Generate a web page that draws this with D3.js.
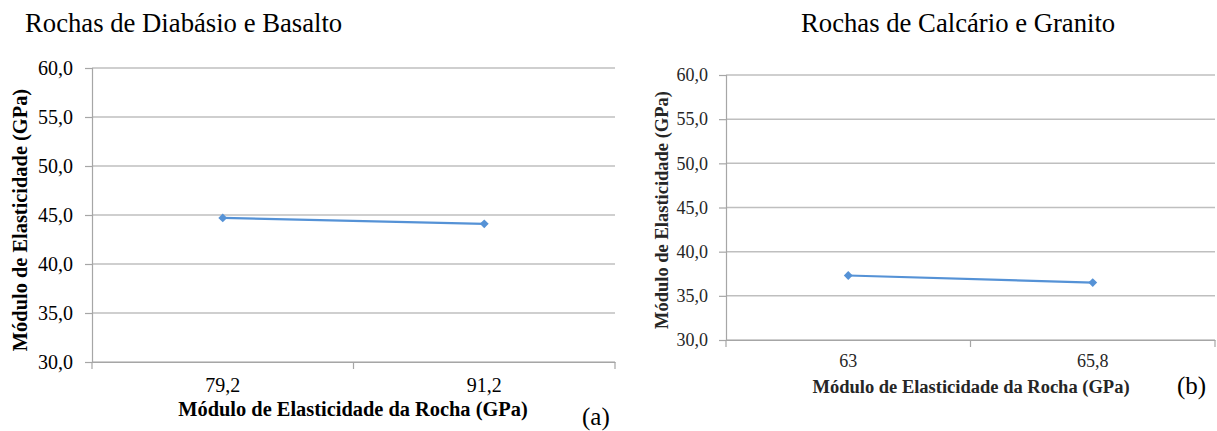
<!DOCTYPE html>
<html>
<head>
<meta charset="utf-8">
<script src="https://cdn.jsdelivr.net/npm/d3@7"></script>
<style>
  body { margin: 0; background: #fff; }
  svg { display: block; font-family: "Liberation Serif", "DejaVu Serif", serif; }
</style>
</head>
<body>
<svg id="chart" width="1217" height="431"></svg>
<script>
// values
var categoriesA = ["79,2", "91,2"];
var valuesA = [44.7, 44.1];
var categoriesB = ["63", "65,8"];
var valuesB = [37.3, 36.5];
var yTicks = [30, 35, 40, 45, 50, 55, 60];

var svg = d3.select('#chart');
var serif = '"Liberation Serif", "DejaVu Serif", serif';

function drawChart(cfg) {
  var g = svg.append('g');

  var x = d3.scaleBand()
    .domain(cfg.categories)
    .range([cfg.left, cfg.right]);

  var y = d3.scaleLinear()
    .domain([30, 60])
    .range([cfg.bottom, cfg.top]);

  // gridlines
  g.append('g').selectAll('line')
    .data(yTicks)
    .enter().append('line')
    .attr('x1', cfg.left).attr('x2', cfg.right)
    .attr('y1', function(d) { return y(d); })
    .attr('y2', function(d) { return y(d); })
    .attr('stroke', '#bfbfbf')
    .attr('stroke-width', 1.5);

  // y axis
  var y_axis = d3.axisLeft(y)
    .tickValues(yTicks)
    .tickSize(7)
    .tickPadding(cfg.yPad)
    .tickFormat(function(d) { return d.toFixed(1).replace('.', ','); });

  var ya = g.append('g')
    .attr('transform', 'translate(' + cfg.left + ',0)')
    .call(y_axis)
    .attr('font-family', serif);
  ya.select('.domain').attr('stroke', '#a6a6a6').attr('stroke-width', 1.2);
  ya.selectAll('.tick line').attr('stroke', '#a6a6a6').attr('stroke-width', 1.2);
  ya.selectAll('.tick text')
    .attr('fill', cfg.textColor)
    .style('font-size', cfg.tickSize + 'px');

  // x axis: labels centred in bands, tick marks on band edges
  var x_axis = d3.axisBottom(x)
    .tickSize(0)
    .tickPadding(cfg.xPad);

  var xa = g.append('g')
    .attr('transform', 'translate(0,' + cfg.bottom + ')')
    .call(x_axis)
    .attr('font-family', serif);
  xa.select('.domain').attr('stroke', '#a6a6a6').attr('stroke-width', 1.2);
  xa.selectAll('.tick text')
    .attr('fill', cfg.textColor)
    .style('font-size', cfg.tickSize + 'px');

  var edges = cfg.categories.map(function(c) { return x(c); }).concat([cfg.right]);
  xa.selectAll('.edge')
    .data(edges)
    .enter().append('line')
    .attr('class', 'edge')
    .attr('x1', function(d) { return d; }).attr('x2', function(d) { return d; })
    .attr('y1', 0).attr('y2', 7)
    .attr('stroke', '#a6a6a6')
    .attr('stroke-width', 1.2);

  // series
  var pts = cfg.categories.map(function(c, i) {
    return { cat: c, value: cfg.values[i] };
  });

  var line = d3.line()
    .x(function(d) { return x(d.cat) + x.bandwidth() / 2; })
    .y(function(d) { return y(d.value); });

  g.append('path')
    .datum(pts)
    .attr('d', line)
    .attr('fill', 'none')
    .attr('stroke', '#5592d6')
    .attr('stroke-width', 2.2);

  g.selectAll('.marker')
    .data(pts)
    .enter().append('path')
    .attr('class', 'marker')
    .attr('d', d3.symbol().type(d3.symbolDiamond2).size(50))
    .attr('transform', function(d) {
      return 'translate(' + (x(d.cat) + x.bandwidth() / 2) + ',' + y(d.value) + ')';
    })
    .attr('fill', '#5592d6');

  // titles
  g.append('text')
    .attr('x', cfg.titleX).attr('y', cfg.titleY)
    .attr('fill', '#000')
    .style('font-size', cfg.titleSize + 'px')
    .text(cfg.title);

  g.append('text')
    .attr('transform', 'translate(' + cfg.yLabelX + ',' + cfg.yLabelY + ') rotate(-90)')
    .attr('text-anchor', 'middle')
    .attr('fill', cfg.textColor)
    .style('font-weight', 'bold')
    .style('font-size', cfg.labelSize + 'px')
    .text('Módulo de Elasticidade (GPa)');

  g.append('text')
    .attr('x', cfg.xLabelX).attr('y', cfg.xLabelY)
    .attr('text-anchor', 'middle')
    .attr('fill', cfg.textColor)
    .style('font-weight', 'bold')
    .style('font-size', cfg.labelSize + 'px')
    .text('Módulo de Elasticidade da Rocha (GPa)');

  g.append('text')
    .attr('x', cfg.tagX).attr('y', cfg.tagY)
    .attr('fill', '#000')
    .style('font-size', '25px')
    .text(cfg.tag);
}

drawChart({
  categories: categoriesA, values: valuesA,
  left: 92, right: 615, top: 68, bottom: 362,
  textColor: '#000', tickSize: 20, yPad: 12, xPad: 16,
  title: 'Rochas de Diabásio e Basalto', titleX: 25, titleY: 32, titleSize: 26.7,
  labelSize: 20.4, yLabelX: 27, yLabelY: 220,
  xLabelX: 353, xLabelY: 416,
  tag: '(a)', tagX: 582, tagY: 425
});

drawChart({
  categories: categoriesB, values: valuesB,
  left: 726, right: 1215, top: 75, bottom: 340,
  textColor: '#262626', tickSize: 18, yPad: 11, xPad: 14,
  title: 'Rochas de Calcário e Granito', titleX: 801, titleY: 32, titleSize: 26.7,
  labelSize: 18.5, yLabelX: 668, yLabelY: 210,
  xLabelX: 971, xLabelY: 393,
  tag: '(b)', tagX: 1177, tagY: 394
});
</script>
</body>
</html>
